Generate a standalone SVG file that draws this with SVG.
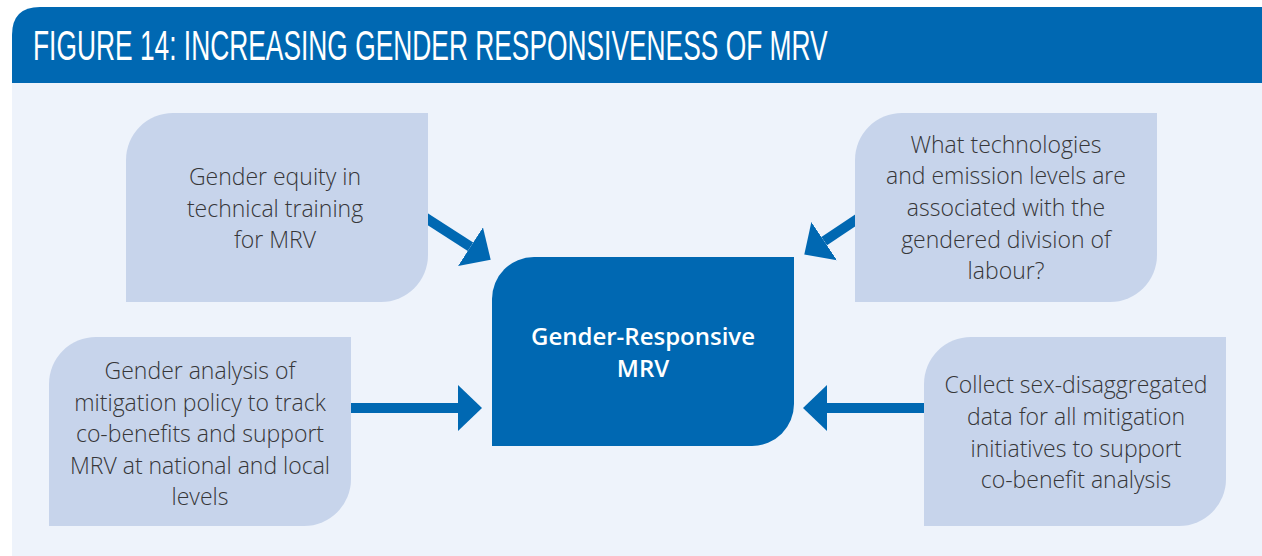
<svg xmlns="http://www.w3.org/2000/svg" width="1262" height="556" viewBox="0 0 1262 556">
<style>
.bg{fill:#EEF3FB}
.hdr{fill:#0068B2}
.title{font-family:"Liberation Sans",Arial,sans-serif;font-size:43px;fill:#FFFFFF}
.box{fill:#C7D4EB}
.core{fill:#0068B2}
.t{font-family:"Open Sans","Noto Sans","Liberation Sans",sans-serif;font-weight:300;font-size:23px;fill:#363638;text-anchor:middle}
.tc{font-family:"Open Sans","Noto Sans","Liberation Sans",sans-serif;font-weight:600;font-size:24px;fill:#FFFFFF;text-anchor:middle}
.conn{stroke:#0068B2;stroke-width:10;fill:none}
</style>
<defs>
<marker id="ah" viewBox="0 0 24 46" markerWidth="24" markerHeight="46" markerUnits="userSpaceOnUse" refX="0" refY="23" orient="auto">
<path d="M0,0 L24,23 L0,46 Z" fill="#0068B2"/>
</marker>
</defs>
<rect x="0" y="0" width="1262" height="556" fill="#FFFFFF"/>
<rect class="bg" x="12" y="83" width="1250" height="473"/>
<path class="hdr" d="M12,83 L12,35 Q12,7 40,7 L1262,7 L1262,83 Z"/>
<text class="title" transform="translate(33,60) scale(0.613,1)" x="0" y="0">FIGURE 14: INCREASING GENDER RESPONSIVENESS OF MRV</text>

<g id="connectors">
<line class="conn" x1="420" y1="214.2" x2="470.5" y2="246.7" marker-end="url(#ah)"/>
<line class="conn" x1="862" y1="215.8" x2="824.2" y2="241.2" marker-end="url(#ah)"/>
<line class="conn" x1="345" y1="408" x2="458" y2="408" marker-end="url(#ah)"/>
<line class="conn" x1="930" y1="408" x2="827" y2="408" marker-end="url(#ah)"/>
</g>

<g id="node-training">
<path class="box" d="M126,302 L126,160 A47,47 0 0 1 173,113 L428,113 L428,255 A47,47 0 0 1 381,302 Z"/>
<text class="t"><tspan x="275" y="185">Gender equity in</tspan><tspan x="275" y="217">technical training</tspan><tspan x="275" y="248">for MRV</tspan></text>
</g>

<g id="node-technologies">
<path class="box" d="M855,302 L855,160 A47,47 0 0 1 902,113 L1157,113 L1157,255 A47,47 0 0 1 1110,302 Z"/>
<text class="t"><tspan x="1006" y="153">What technologies</tspan><tspan x="1006" y="184">and emission levels are</tspan><tspan x="1006" y="216">associated with the</tspan><tspan x="1006" y="248">gendered division of</tspan><tspan x="1006" y="279">labour?</tspan></text>
</g>

<g id="node-analysis">
<path class="box" d="M49,526 L49,384 A47,47 0 0 1 96,337 L351,337 L351,479 A47,47 0 0 1 304,526 Z"/>
<text class="t"><tspan x="200" y="379">Gender analysis of</tspan><tspan x="200" y="411">mitigation policy to track</tspan><tspan x="200" y="442">co-benefits and support</tspan><tspan x="200" y="474">MRV at national and local</tspan><tspan x="200" y="505">levels</tspan></text>
</g>

<g id="node-collect">
<path class="box" d="M924,526 L924,384 A47,47 0 0 1 971,337 L1226,337 L1226,479 A47,47 0 0 1 1179,526 Z"/>
<text class="t"><tspan x="1076" y="393">Collect sex-disaggregated</tspan><tspan x="1076" y="425">data for all mitigation</tspan><tspan x="1076" y="457">initiatives to support</tspan><tspan x="1076" y="488">co-benefit analysis</tspan></text>
</g>

<g id="node-core">
<path class="core" d="M492,446 L492,299 A42,42 0 0 1 534,257 L794,257 L794,404 A42,42 0 0 1 752,446 Z"/>
<text class="tc"><tspan x="643" y="345">Gender-Responsive</tspan><tspan x="643" y="377">MRV</tspan></text>
</g>
</svg>
